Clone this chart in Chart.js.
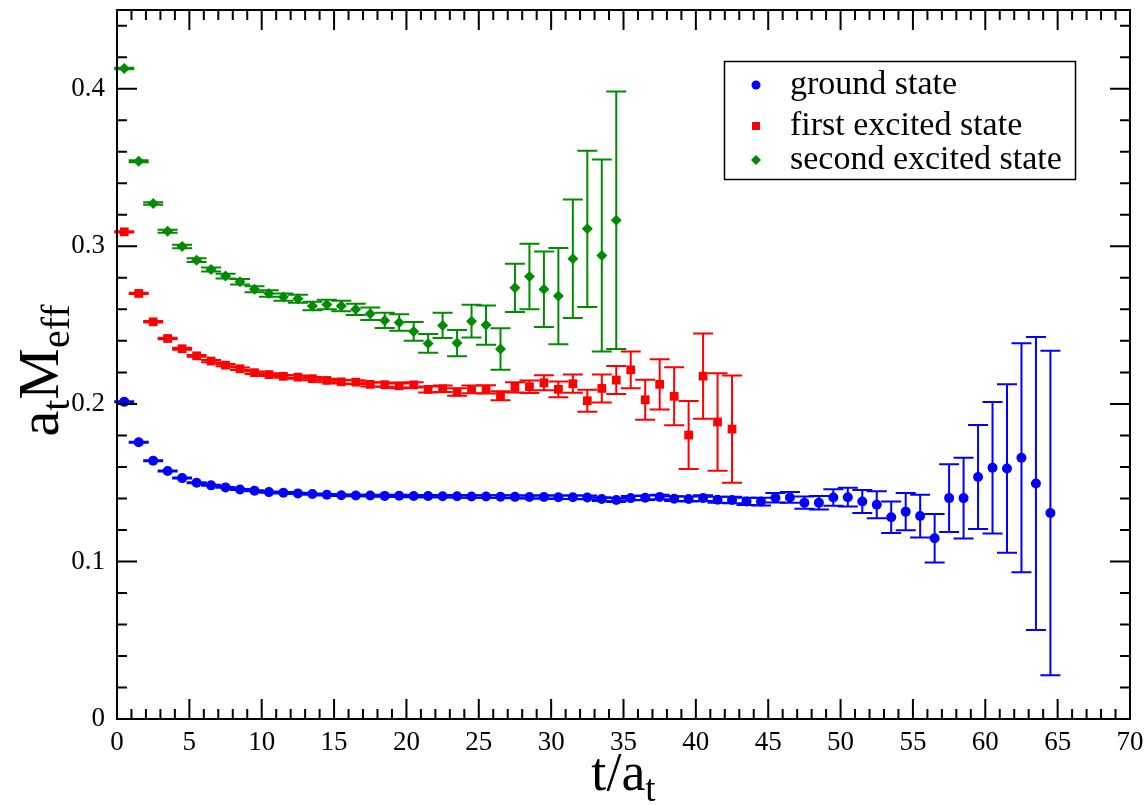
<!DOCTYPE html>
<html>
<head>
<meta charset="utf-8">
<script src="https://cdn.jsdelivr.net/npm/chart.js@4.4.0/dist/chart.umd.min.js"></script>
<style>
html,body{margin:0;padding:0;background:#fff;}
#wrap{width:1147px;height:805px;position:relative;}
</style>
</head>
<body>
<div id="wrap"><canvas id="chart"></canvas></div>
<script>
// time slices t/a_t (points sit at half-integer positions)
const timeSlices = [0.5,1.5,2.5,3.5,4.5,5.5,6.5,7.5,8.5,9.5,10.5,11.5,12.5,13.5,14.5,15.5,16.5,17.5,18.5,19.5,
  20.5,21.5,22.5,23.5,24.5,25.5,26.5,27.5,28.5,29.5,30.5,31.5,32.5,33.5,34.5,35.5,36.5,37.5,38.5,39.5,
  40.5,41.5,42.5,43.5,44.5,45.5,46.5,47.5,48.5,49.5,50.5,51.5,52.5,53.5,54.5,55.5,56.5,57.5,58.5,59.5,
  60.5,61.5,62.5,63.5,64.5];

const groundMass = [0.2013,0.1756,0.1639,0.1574,0.1529,0.1500,0.1483,0.1470,0.1457,0.1449,
  0.1440,0.1436,0.1432,0.1428,0.1423,0.1420,0.1418,0.1418,0.1416,0.1417,
  0.1415,0.1415,0.1414,0.1414,0.1412,0.1412,0.1411,0.1410,0.1409,0.1409,
  0.1407,0.1407,0.1406,0.1396,0.1390,0.1402,0.1404,0.1409,0.1398,0.1396,
  0.1402,0.1392,0.1390,0.1381,0.1380,0.1404,0.1406,0.1373,0.1373,0.1406,
  0.1408,0.1381,0.1360,0.1280,0.1316,0.1288,0.1147,0.1402,0.1402,0.1536,
  0.1595,0.1590,0.1658,0.1495,0.1307];
const groundErr = [0.0003,0.0003,0.0003,0.0003,0.0003,0.0003,0.0003,0.0003,0.0003,0.0003,
  0.0004,0.0004,0.0004,0.0004,0.0005,0.0005,0.0005,0.0005,0.0006,0.0006,
  0.0007,0.0007,0.0007,0.0008,0.0008,0.0008,0.0009,0.0009,0.0010,0.0010,
  0.0011,0.0011,0.0012,0.0012,0.0013,0.0013,0.0014,0.0015,0.0015,0.0016,
  0.0018,0.0019,0.0021,0.0023,0.0025,0.0030,0.0034,0.0039,0.0043,0.0053,
  0.0060,0.0073,0.0086,0.0100,0.0118,0.0136,0.0154,0.0215,0.0256,0.0330,
  0.0417,0.0535,0.0727,0.0930,0.1030];

const firstMass = [0.3092,0.2701,0.2521,0.2415,0.2350,0.2305,0.2272,0.2246,0.2223,0.2198,
  0.2186,0.2175,0.2170,0.2160,0.2149,0.2140,0.2138,0.2124,0.2122,0.2115,
  0.2121,0.2092,0.2096,0.2075,0.2092,0.2092,0.2052,0.2105,0.2109,0.2134,
  0.2092,0.2128,0.2020,0.2098,0.2151,0.2216,0.2026,0.2124,0.2048,0.1802,
  0.2176,0.1885,0.1840];
const firstErr = [0.0004,0.0004,0.0005,0.0005,0.0006,0.0006,0.0007,0.0007,0.0008,0.0008,
  0.0009,0.0009,0.0010,0.0010,0.0011,0.0011,0.0012,0.0013,0.0014,0.0015,
  0.0017,0.0019,0.0021,0.0024,0.0025,0.0026,0.0029,0.0032,0.0040,0.0047,
  0.0050,0.0058,0.0070,0.0089,0.0089,0.0117,0.0127,0.0160,0.0184,0.0216,
  0.0270,0.0310,0.0340];

const secondMass = [0.4129,0.3540,0.3272,0.3096,0.2999,0.2912,0.2853,0.2811,0.2775,0.2728,
  0.2701,0.2678,0.2667,0.2621,0.2631,0.2621,0.2600,0.2572,0.2530,0.2517,
  0.2460,0.2384,0.2498,0.2386,0.2525,0.2500,0.2348,0.2737,0.2809,0.2728,
  0.2684,0.2921,0.3111,0.2942,0.3166];
const secondErr = [0.0005,0.0007,0.0008,0.0010,0.0011,0.0012,0.0013,0.0015,0.0017,0.0019,
  0.0021,0.0023,0.0025,0.0027,0.0030,0.0033,0.0036,0.0040,0.0048,0.0052,
  0.0060,0.0060,0.0080,0.0083,0.0104,0.0124,0.0132,0.0153,0.0208,0.0240,
  0.0306,0.0376,0.0496,0.0609,0.0817];

const xTicks = [0,5,10,15,20,25,30,35,40,45,50,55,60,65,70];
const yTicks = [0,0.1,0.2,0.3,0.4];
const seriesNames = ['ground state','first excited state','second excited state'];

const BLUE = '#0000ff', RED = '#ff0000', GREEN = '#008b00';
const SERIF = '"Liberation Serif", "DejaVu Serif", serif';

function points(vals, errs){
  return vals.map((v,i)=>({x:timeSlices[i], y:v, err:errs[i]}));
}

// vertical error bars with caps, drawn under the markers
const errorBars = {
  id:'errorBars',
  beforeDatasetsDraw(chart){
    const {ctx, scales:{x,y}} = chart;
    chart.data.datasets.forEach(ds=>{
      ctx.save();
      ctx.strokeStyle = ds.borderColor;
      ctx.lineWidth = 2;
      ds.data.forEach(p=>{
        const px = x.getPixelForValue(p.x);
        const top = y.getPixelForValue(p.y+p.err), bot = y.getPixelForValue(p.y-p.err);
        ctx.beginPath();
        ctx.moveTo(px,top); ctx.lineTo(px,bot);
        ctx.moveTo(px-10,top); ctx.lineTo(px+10,top);
        ctx.moveTo(px-10,bot); ctx.lineTo(px+10,bot);
        ctx.stroke();
      });
      ctx.restore();
    });
  }
};

// grace style frame: box, inward ticks on every side, legend box, axis titles
const frame = {
  id:'frame',
  afterDraw(chart){
    const {ctx, chartArea:a, scales:{x,y}} = chart;
    ctx.save();
    ctx.strokeStyle = '#000';
    ctx.lineWidth = 2;
    ctx.strokeRect(a.left, a.top, a.right-a.left, a.bottom-a.top);
    ctx.beginPath();
    for(let i=0;i<=70;i++){
      const px = x.getPixelForValue(i), len = i%5===0 ? 20 : 10;
      ctx.moveTo(px,a.bottom); ctx.lineTo(px,a.bottom-len);
      ctx.moveTo(px,a.top); ctx.lineTo(px,a.top+len);
    }
    for(let j=0;j<=22;j++){
      const py = y.getPixelForValue(j*0.02), len = j%5===0 ? 20 : 10;
      ctx.moveTo(a.left,py); ctx.lineTo(a.left+len,py);
      ctx.moveTo(a.right,py); ctx.lineTo(a.right-len,py);
    }
    ctx.stroke();

    // legend
    ctx.lineWidth = 1.5;
    ctx.strokeRect(724.5, 61.5, 351, 118);
    const rows = [94, 135, 169];
    const cols = [BLUE, RED, GREEN];
    ctx.font = '34px ' + SERIF;
    ctx.textBaseline = 'alphabetic';
    ctx.textAlign = 'left';
    rows.forEach((ry,i)=>{
      ctx.fillStyle = cols[i];
      const cy = ry - 9;
      ctx.beginPath();
      if(i===0){ ctx.arc(756, cy, 4.5, 0, Math.PI*2); }
      else if(i===1){ ctx.rect(752, cy-4, 8, 8); }
      else { ctx.moveTo(756,cy-5); ctx.lineTo(761,cy); ctx.lineTo(756,cy+5); ctx.lineTo(751,cy); ctx.closePath(); }
      ctx.fill();
      ctx.fillStyle = '#000';
      ctx.fillText(seriesNames[i], 790, ry);
    });

    // x title t/a_t
    let big = '54px ' + SERIF, small = '37px ' + SERIF;
    ctx.fillStyle = '#000';
    ctx.font = big; const w1 = ctx.measureText('t/a').width;
    ctx.font = small; const w2 = ctx.measureText('t').width;
    let sx = (a.left+a.right)/2 - (w1+w2)/2;
    ctx.font = big; ctx.fillText('t/a', sx, 790);
    ctx.font = small; ctx.fillText('t', sx+w1, 801);

    // y title a_t M_eff (rotated)
    big = '58px ' + SERIF; small = '40px ' + SERIF;
    ctx.translate(58, (a.top+a.bottom)/2 + 6);
    ctx.rotate(-Math.PI/2);
    const parts = [['a',big,0],['t',small,11],['M',big,0],['eff',small,11]];
    let total = 0;
    parts.forEach(p=>{ ctx.font = p[1]; p.push(ctx.measureText(p[0]).width); total += p[3]; });
    let tx = -total/2;
    parts.forEach(p=>{ ctx.font = p[1]; ctx.fillText(p[0], tx, p[2]); tx += p[3]; });
    ctx.restore();
  }
};

new Chart(document.getElementById('chart'), {
  type:'scatter',
  data:{
    datasets:[
      {label:seriesNames[0], data:points(groundMass,groundErr), backgroundColor:BLUE, borderColor:BLUE,
       pointStyle:'circle', pointRadius:5, pointHoverRadius:5, borderWidth:0},
      {label:seriesNames[1], data:points(firstMass,firstErr), backgroundColor:RED, borderColor:RED,
       pointStyle:'rect', pointRadius:6.2, pointHoverRadius:6.2, borderWidth:0},
      {label:seriesNames[2], data:points(secondMass,secondErr), backgroundColor:GREEN, borderColor:GREEN,
       pointStyle:'rectRot', pointRadius:5.5, pointHoverRadius:5.5, borderWidth:0}
    ]
  },
  options:{
    responsive:true,
    maintainAspectRatio:false,
    animation:false,
    devicePixelRatio:1,
    layout:{padding:{left:0, top:10, right:17, bottom:0}},
    plugins:{legend:{display:false}, tooltip:{enabled:false}, title:{display:false}},
    scales:{
      x:{
        type:'linear', min:0, max:70,
        grid:{display:false, drawTicks:false},
        border:{display:false},
        afterBuildTicks(s){ s.ticks = xTicks.map(v=>({value:v})); },
        afterFit(s){ s.height = 86; s.paddingLeft = 0; s.paddingRight = 0; },
        ticks:{font:{family:SERIF, size:27}, color:'#000', padding:8, maxRotation:0, autoSkip:false,
               callback:v=>String(v)}
      },
      y:{
        type:'linear', min:0, max:0.45,
        grid:{display:false, drawTicks:false},
        border:{display:false},
        afterBuildTicks(s){ s.ticks = yTicks.map(v=>({value:v})); },
        afterFit(s){ s.width = 117; s.paddingTop = 0; s.paddingBottom = 0; },
        ticks:{font:{family:SERIF, size:27}, color:'#000', padding:12, autoSkip:false,
               callback:v=>String(Math.round(v*10)/10)}
      }
    }
  },
  plugins:[errorBars, frame]
});
</script>
</body>
</html>
